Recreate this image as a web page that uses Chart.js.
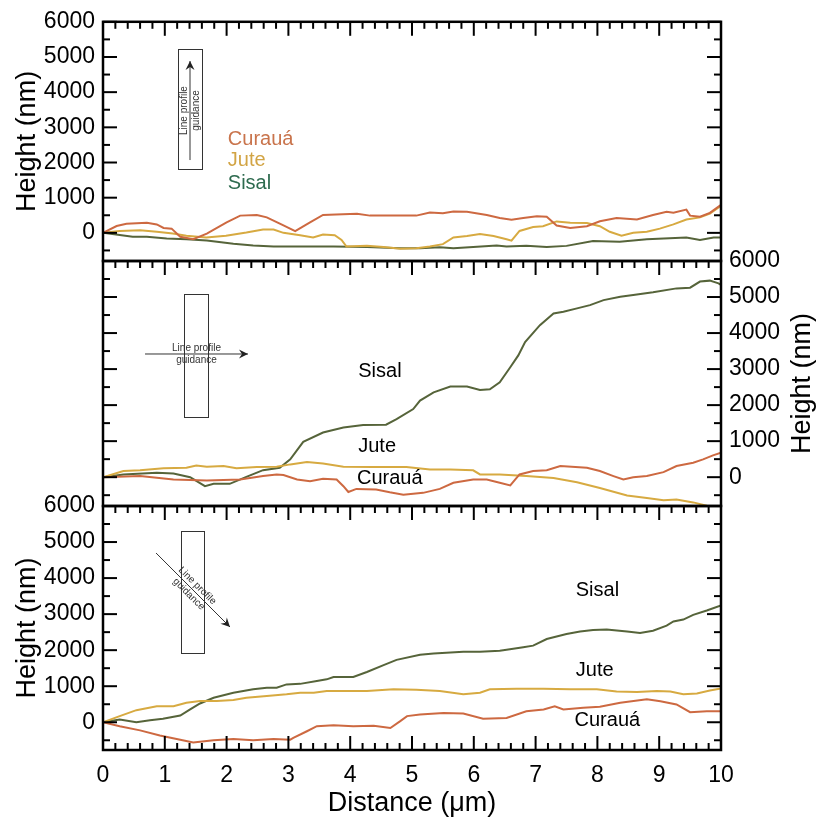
<!DOCTYPE html>
<html><head><meta charset="utf-8">
<script src="https://cdn.jsdelivr.net/npm/chart.js@4.4.0/dist/chart.umd.min.js"></script>
<style>
html,body{margin:0;padding:0;background:#fff;}
#wrap{position:relative;width:818px;height:820px;background:#fff;}
#wrap canvas{position:absolute;left:0;top:0;}
</style></head><body>
<div id="wrap">
<canvas id="c1" width="818" height="820"></canvas>
<canvas id="c2" width="818" height="820"></canvas>
<canvas id="c3" width="818" height="820"></canvas>
</div>
<script>
// ---------- DATA ----------
const yTickValues = [0, 1000, 2000, 3000, 4000, 5000, 6000];
const seriesNames = ['Curauá', 'Jute', 'Sisal'];

// Panel 1 (top)
const p1CuraX = [0,0.22,0.38,0.71,0.87,0.98,1.11,1.25,1.46,1.68,2.0,2.22,2.49,2.65,2.92,3.11,3.35,3.56,3.77,4.11,4.32,4.58,4.81,5.07,5.29,5.5,5.67,5.89,6.21,6.42,6.61,6.8,7.02,7.18,7.34,7.56,7.83,8.04,8.31,8.64,8.9,9.12,9.23,9.44,9.5,9.66,9.82,10];
const p1CuraY = [0,195,260,290,240,140,120,-110,-180,-20,300,490,510,440,210,50,300,510,520,540,490,490,490,490,580,560,610,600,510,420,370,420,470,460,210,140,190,330,420,380,510,600,570,660,490,460,570,800];
const p1JuteX = [0,0.27,0.6,0.87,1.13,1.35,1.67,1.99,2.32,2.59,2.76,2.92,3.19,3.4,3.56,3.75,3.86,3.94,4.27,4.54,4.81,5.07,5.29,5.5,5.67,5.89,6.1,6.32,6.53,6.61,6.74,6.96,7.12,7.34,7.56,7.83,8.04,8.2,8.39,8.58,8.8,9.01,9.23,9.44,9.66,9.82,10];
const p1JuteY = [0,50,75,30,-20,-80,-130,-80,10,95,95,0,-65,-130,-45,-65,-200,-390,-370,-400,-450,-440,-390,-320,-130,-90,-35,-90,-180,-220,55,165,190,325,290,280,190,30,-80,0,30,120,240,380,440,550,770];
const p1SisalX = [0,0.48,0.71,1.03,1.35,1.68,2.11,2.43,2.76,3.19,3.73,4.27,4.81,5.13,5.45,5.67,5.99,6.37,6.53,6.85,7.18,7.5,7.93,8.36,8.8,9.44,9.66,9.88,10];
const p1SisalY = [0,-110,-110,-160,-185,-220,-310,-360,-390,-390,-390,-400,-440,-440,-410,-440,-400,-360,-390,-370,-400,-370,-230,-250,-180,-130,-200,-130,-130];

// Panel 2 (middle)
const p2CuraX = [0,0.6,1.14,1.68,2.22,2.59,2.81,2.92,3.14,3.35,3.56,3.78,3.89,3.97,4.1,4.42,4.64,4.86,5.18,5.45,5.67,5.99,6.21,6.42,6.59,6.74,6.96,7.18,7.4,7.83,8.04,8.26,8.42,8.58,8.8,9.07,9.28,9.55,9.71,9.87,10];
const p2CuraY = [0,30,-65,-90,-65,30,75,60,-65,-110,-45,-65,-250,-410,-325,-345,-420,-485,-435,-325,-155,-65,-65,-155,-230,75,170,195,310,260,170,30,-65,0,30,140,310,400,495,605,680];
const p2JuteX = [0,0.33,0.6,0.98,1.35,1.51,1.68,1.95,2.16,2.49,2.81,3.03,3.3,3.56,3.89,4.37,4.91,5.29,5.62,5.99,6.1,6.42,6.85,7.29,7.67,8.04,8.48,8.8,9.07,9.28,9.55,9.77,10];
const p2JuteY = [0,170,195,245,260,325,290,310,245,280,290,355,420,380,290,280,280,215,215,190,75,75,30,-20,-140,-300,-510,-575,-640,-620,-700,-790,-800];
const p2SisalX = [0,0.33,0.87,1.14,1.41,1.65,1.79,2.05,2.32,2.59,2.86,3.03,3.24,3.56,3.89,4.21,4.58,4.75,5.02,5.13,5.35,5.62,5.89,6.1,6.26,6.42,6.59,6.72,6.83,7.07,7.29,7.45,7.67,7.88,8.1,8.37,8.58,8.9,9.28,9.5,9.66,9.82,9.96,10];
const p2SisalY = [0,75,120,100,0,-250,-185,-185,10,195,260,495,980,1240,1380,1445,1455,1610,1890,2125,2355,2515,2515,2420,2440,2635,3050,3380,3750,4220,4545,4590,4685,4775,4915,5010,5055,5130,5240,5260,5430,5455,5380,5335];

// Panel 3 (bottom)
const p3CuraX = [0,0.27,0.6,0.92,1.25,1.46,1.79,2.11,2.43,2.76,3.03,3.08,3.3,3.46,3.73,4.05,4.38,4.65,4.81,4.92,5.13,5.51,5.83,6.15,6.53,6.85,7.13,7.31,7.45,7.77,8.04,8.37,8.8,9.02,9.28,9.5,9.77,10];
const p3CuraY = [0,-110,-225,-370,-485,-560,-500,-465,-500,-465,-485,-435,-250,-110,-85,-110,-95,-160,30,170,215,260,240,95,120,305,355,445,355,400,430,540,635,585,495,280,305,305];
const p3JuteX = [0,0.27,0.54,0.87,1.14,1.35,1.57,1.84,2.11,2.32,2.65,2.97,3.19,3.41,3.62,4.0,4.27,4.7,5.07,5.45,5.83,6.1,6.26,6.69,7.13,7.56,7.99,8.31,8.64,8.96,9.18,9.39,9.61,9.82,10];
const p3JuteY = [0,170,335,445,445,540,590,590,615,680,725,775,820,820,865,865,865,915,905,865,775,820,915,930,930,915,915,850,840,865,850,775,800,880,940];
const p3SisalX = [0,0.27,0.54,0.76,0.97,1.25,1.41,1.57,1.79,2.11,2.43,2.65,2.81,2.97,3.19,3.46,3.62,3.73,4.05,4.27,4.54,4.75,5.13,5.35,5.83,6.1,6.42,6.53,6.8,6.96,7.18,7.5,7.72,7.93,8.15,8.48,8.69,8.9,9.12,9.23,9.39,9.55,9.77,10];
const p3SisalY = [0,75,0,55,95,185,355,520,680,820,915,960,960,1050,1065,1145,1190,1255,1255,1395,1585,1730,1870,1910,1955,1955,1985,2010,2080,2125,2310,2450,2515,2560,2570,2515,2475,2540,2680,2795,2850,2980,3100,3240];

// ---------- STYLE / LAYOUT ----------
const FONT = "'Liberation Sans', Arial, Helvetica, sans-serif";
Chart.defaults.font.family = FONT;
Chart.defaults.color = '#000';
const COL = { cura: '#CD6941', jute: '#D7AA41', sisal: '#56643A' };
const LBLCOL1 = { cura: '#C9744C', jute: '#D2A444', sisal: '#2E6B4F' };

function pts(xs, ys) { return xs.map((x, i) => ({ x: x, y: ys[i] })); }
function ds(label, xs, ys, color) {
  return { label: label, data: pts(xs, ys), borderColor: color, borderWidth: 2,
           pointRadius: 0, fill: false, tension: 0 };
}

function line(ctx, x1, y1, x2, y2) { ctx.beginPath(); ctx.moveTo(x1, y1); ctx.lineTo(x2, y2); ctx.stroke(); }

const deco = {
  id: 'deco',
  afterDraw(chart, args, o) {
    const ctx = chart.ctx, a = chart.chartArea, xs = chart.scales.x, ys = chart.scales.y;
    ctx.save();
    ctx.strokeStyle = '#000'; ctx.lineWidth = 2;
    for (let i = 0; i <= 50; i++) {
      const px = xs.getPixelForValue(i / 5);
      const len = (i % 5 === 0) ? 14 : 7;
      if (o.xTop) line(ctx, px, a.top, px, a.top + len);
      if (o.xBottom) line(ctx, px, a.bottom, px, a.bottom - len);
    }
    for (let v = -500; v <= 6000; v += 500) {
      const py = ys.getPixelForValue(v);
      const len = (v % 1000 === 0) ? 14 : 7;
      line(ctx, a.left, py, a.left + len, py);
      line(ctx, a.right, py, a.right - len, py);
    }
    ctx.lineWidth = 2.5;
    ctx.strokeRect(a.left, a.top, a.right - a.left, a.bottom - a.top);

    // series name labels
    ctx.font = '20px ' + FONT; ctx.textAlign = 'left'; ctx.textBaseline = 'middle';
    (o.labels || []).forEach(l => {
      ctx.fillStyle = l.color;
      ctx.fillText(l.text, xs.getPixelForValue(l.x), ys.getPixelForValue(l.y));
    });

    // guidance sketch
    if (o.guide) {
      const g = o.guide;
      ctx.strokeStyle = '#333'; ctx.fillStyle = '#222'; ctx.lineWidth = 1;
      const bx1 = xs.getPixelForValue(g.box[0]), bx2 = xs.getPixelForValue(g.box[1]);
      const by1 = ys.getPixelForValue(g.box[2]), by2 = ys.getPixelForValue(g.box[3]);
      ctx.strokeRect(Math.round(bx1) + 0.5, Math.round(by1) + 0.5, Math.round(bx2 - bx1), Math.round(by2 - by1));
      const ax1 = xs.getPixelForValue(g.arrow[0]), ay1 = ys.getPixelForValue(g.arrow[1]);
      const ax2 = xs.getPixelForValue(g.arrow[2]), ay2 = ys.getPixelForValue(g.arrow[3]);
      const ang = Math.atan2(ay2 - ay1, ax2 - ax1);
      line(ctx, ax1, ay1, ax2, ay2);
      ctx.save();
      ctx.translate(ax2, ay2); ctx.rotate(ang);
      ctx.beginPath(); ctx.moveTo(0, 0); ctx.lineTo(-9, -4.5); ctx.lineTo(-6, 0); ctx.lineTo(-9, 4.5); ctx.closePath(); ctx.fill();
      ctx.restore();
      ctx.save();
      ctx.translate((ax1 + ax2) / 2, (ay1 + ay2) / 2); ctx.rotate(ang);
      ctx.font = '10px ' + FONT; ctx.fillStyle = '#333'; ctx.textAlign = 'center'; ctx.textBaseline = 'middle';
      ctx.fillText('Line profile', 0, -6);
      ctx.fillText('guidance', 0, 6);
      ctx.restore();
    }

    // right-side title (reads bottom to top)
    if (o.rightTitle) {
      ctx.save();
      ctx.translate(a.right + 82, (a.top + a.bottom) / 2); ctx.rotate(-Math.PI / 2);
      ctx.font = '27px ' + FONT; ctx.fillStyle = '#000'; ctx.textAlign = 'center'; ctx.textBaseline = 'middle';
      ctx.fillText(o.rightTitle, 0, 0);
      ctx.restore();
    }
    ctx.restore();
  }
};

function yAxis(pos, min, withTitle, width) {
  return {
    type: 'linear', position: pos, min: min, max: 6000,
    grid: { display: false, drawTicks: false }, border: { display: false },
    afterBuildTicks: s => { s.ticks = yTickValues.map(v => ({ value: v })); },
    afterFit: s => { s.width = width; },
    ticks: { font: { size: 23 }, color: '#000', padding: 8, callback: v => String(v) },
    title: { display: withTitle, text: 'Height (nm)', font: { size: 27 }, color: '#000', padding: { top: 11, bottom: 0 } }
  };
}
function xHidden() { return { type: 'linear', min: 0, max: 10, display: false }; }

function make(id, datasets, scales, padding, decoOpts) {
  return new Chart(document.getElementById(id), {
    type: 'line',
    data: { datasets: datasets },
    options: {
      responsive: false, animation: false, devicePixelRatio: 1,
      layout: { padding: padding },
      plugins: { legend: { display: false }, tooltip: { enabled: false }, deco: decoOpts },
      scales: scales
    },
    plugins: [deco]
  });
}

// Panel 1
make('c1',
  [ds(seriesNames[0], p1CuraX, p1CuraY, COL.cura), ds(seriesNames[1], p1JuteX, p1JuteY, COL.jute), ds(seriesNames[2], p1SisalX, p1SisalY, COL.sisal)],
  { x: xHidden(), y: yAxis('left', -800, true, 103) },
  { left: 0, right: 97, top: 17, bottom: 559 },
  { xTop: true, xBottom: false,
    labels: [ { text: seriesNames[0], x: 2.02, y: 2655, color: LBLCOL1.cura },
              { text: seriesNames[1], x: 2.02, y: 2070, color: LBLCOL1.jute },
              { text: seriesNames[2], x: 2.02, y: 1400, color: LBLCOL1.sisal } ],
    guide: { box: [1.214, 1.602, 5220, 1820], arrow: [1.408, 2070, 1.408, 4885] } });

// Panel 2
make('c2',
  [ds(seriesNames[0], p2CuraX, p2CuraY, COL.cura), ds(seriesNames[1], p2JuteX, p2JuteY, COL.jute), ds(seriesNames[2], p2SisalX, p2SisalY, COL.sisal)],
  { x: xHidden(), y: yAxis('right', -800, false, 97) },
  { left: 103, right: 0, top: 261, bottom: 314 },
  { xTop: true, xBottom: false, rightTitle: 'Height (nm)',
    labels: [ { text: seriesNames[2], x: 4.13, y: 2920, color: '#000' },
              { text: seriesNames[1], x: 4.13, y: 838, color: '#000' },
              { text: seriesNames[0], x: 4.11, y: -50, color: '#000' } ],
    guide: { box: [1.311, 1.699, 5084, 1670], arrow: [0.68, 3419, 2.346, 3419] } });

// Panel 3
make('c3',
  [ds(seriesNames[0], p3CuraX, p3CuraY, COL.cura), ds(seriesNames[1], p3JuteX, p3JuteY, COL.jute), ds(seriesNames[2], p3SisalX, p3SisalY, COL.sisal)],
  { x: { type: 'linear', position: 'bottom', min: 0, max: 10,
         grid: { display: false, drawTicks: false }, border: { display: false },
         afterFit: s => { s.height = 70; },
         ticks: { stepSize: 1, font: { size: 23 }, color: '#000', padding: 12, maxRotation: 0, callback: v => String(v) },
         title: { display: true, text: 'Distance (μm)', font: { size: 27 }, color: '#000', padding: { top: 0, bottom: 0 } } },
    y: yAxis('left', -770, true, 103) },
  { left: 0, right: 97, top: 506, bottom: 0 },
  { xTop: true, xBottom: true,
    labels: [ { text: seriesNames[2], x: 7.65, y: 3668, color: '#000' },
              { text: seriesNames[1], x: 7.65, y: 1448, color: '#000' },
              { text: seriesNames[0], x: 7.63, y: 61, color: '#000' } ],
    guide: { box: [1.262, 1.634, 5306, 1921], arrow: [0.858, 4696, 2.055, 2643] } });
</script>
</body></html>
